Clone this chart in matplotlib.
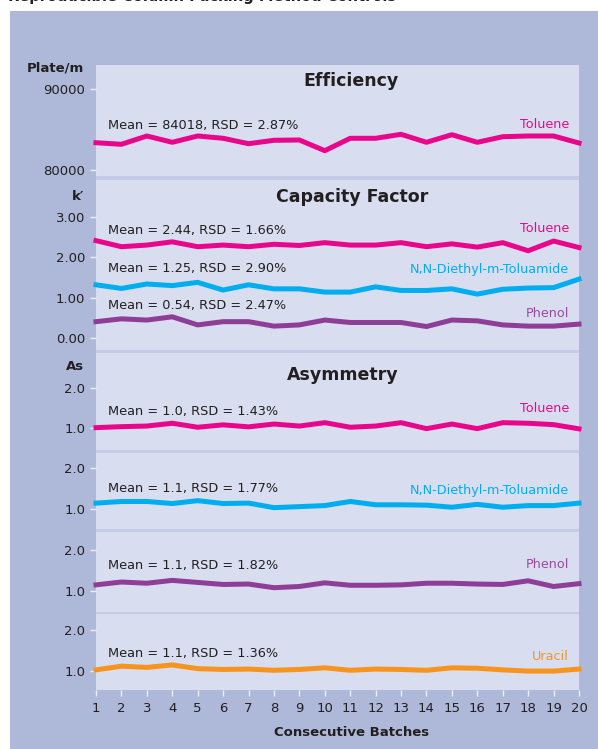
import matplotlib
matplotlib.use('Agg')
import matplotlib.pyplot as plt
from matplotlib.patches import Rectangle

# ---------------- data ----------------
batches = list(range(1, 21))
eff_toluene = [83370, 83173, 84198, 83420, 84198, 83914, 83247, 83667, 83704, 82383,
               83914, 83914, 84407, 83420, 84358, 83420, 84111, 84198, 84198, 83333]
k_toluene = [2.41, 2.26, 2.30, 2.38, 2.26, 2.30, 2.26, 2.32, 2.29, 2.36,
             2.30, 2.30, 2.36, 2.26, 2.33, 2.25, 2.36, 2.16, 2.40, 2.24]
k_deet = [1.32, 1.23, 1.34, 1.30, 1.38, 1.19, 1.32, 1.22, 1.22, 1.14,
          1.14, 1.27, 1.18, 1.18, 1.22, 1.09, 1.21, 1.24, 1.25, 1.46]
k_phenol = [0.41, 0.48, 0.45, 0.53, 0.33, 0.41, 0.41, 0.30, 0.33, 0.45,
            0.39, 0.39, 0.39, 0.29, 0.45, 0.43, 0.33, 0.30, 0.30, 0.35]
as_toluene = [1.00, 1.025, 1.04, 1.11, 1.01, 1.07, 1.02, 1.09, 1.04, 1.125,
              1.01, 1.04, 1.125, 0.975, 1.09, 0.975, 1.125, 1.11, 1.075, 0.97]
as_deet = [1.15, 1.19, 1.19, 1.14, 1.21, 1.14, 1.15, 1.04, 1.065, 1.09,
           1.19, 1.11, 1.11, 1.10, 1.05, 1.12, 1.05, 1.09, 1.09, 1.15]
as_phenol = [1.14, 1.21, 1.18, 1.25, 1.20, 1.15, 1.16, 1.07, 1.10, 1.19,
             1.13, 1.13, 1.14, 1.18, 1.18, 1.16, 1.15, 1.24, 1.10, 1.17]
as_uracil = [1.03, 1.12, 1.09, 1.15, 1.06, 1.04, 1.05, 1.02, 1.04, 1.08,
             1.02, 1.05, 1.04, 1.02, 1.08, 1.07, 1.03, 1.00, 1.00, 1.05]

eff_ticks = [80000, 90000]
eff_ticklabels = ["80000", "90000"]
k_ticks = [0, 1, 2, 3]
k_ticklabels = ["0.00", "1.00", "2.00", "3.00"]
as_ticks = [1, 2]
as_ticklabels = ["1.0", "2.0"]

stats_eff = "Mean = 84018, RSD = 2.87%"
stats_k = ["Mean = 2.44, RSD = 1.66%", "Mean = 1.25, RSD = 2.90%", "Mean = 0.54, RSD = 2.47%"]
stats_as = ["Mean = 1.0, RSD = 1.43%", "Mean = 1.1, RSD = 1.77%",
            "Mean = 1.1, RSD = 1.82%", "Mean = 1.1, RSD = 1.36%"]

# ---------------- style ----------------
W, H = 598, 749
BG = '#aeb8d8'
PANEL = '#d8ddf0'
BAND = '#c4cbe6'
TXT = '#231f20'
TICKC = '#eef0f8'
C_TOL = '#e8078b'
C_DEET = '#00aeef'
C_PHE = '#8e3e96'
C_URA = '#f7941d'
LW = 3.6
FONT = 'DejaVu Sans'
plt.rcParams['font.family'] = FONT

fig = plt.figure(figsize=(W / 100, H / 100), dpi=100)
fig.patch.set_facecolor('white')


def fx(px):
    return px / W


def fy(py):
    return 1 - py / H


# lavender background
fig.patches.append(Rectangle((fx(10), 0), 1 - fx(10), fy(11), transform=fig.transFigure,
                             facecolor=BG, edgecolor='none', zorder=-3))
# separator band behind panels
X0, X1 = 96, 579
fig.patches.append(Rectangle((fx(X0), fy(690)), fx(X1) - fx(X0), fy(65) - fy(690),
                             transform=fig.transFigure, facecolor=BAND, edgecolor='none', zorder=-2))

# cut-off title at very top
fig.text(fx(8), fy(1.2), "Reproducible Column Packing Method Controls", fontsize=10.5,
         fontweight='bold', color=TXT, va='baseline', ha='left')


def make_panel(top, bot, ylim, ticks, labels, show_x=False):
    ax = fig.add_axes([fx(X0), fy(bot), fx(X1) - fx(X0), fy(top) - fy(bot)])
    ax.set_facecolor(PANEL)
    ax.set_xlim(1, 20)
    ax.set_ylim(*ylim)
    ax.set_yticks(ticks)
    ax.set_yticklabels(labels)
    for s in ax.spines.values():
        s.set_visible(False)
    ax.tick_params(axis='y', direction='out', length=4.3, width=1, color=TICKC,
                   labelsize=9.5, labelcolor=TXT, pad=3.5)
    if show_x:
        ax.set_xticks(batches)
        ax.tick_params(axis='x', direction='out', length=4.5, width=1, color=TICKC,
                       labelsize=9.5, labelcolor=TXT, pad=4)
    else:
        ax.set_xticks([])
    return ax


def ann(text, py, color=TXT, px=108, ha='left'):
    fig.text(fx(px), fy(py), text, fontsize=9.3, color=color, ha=ha, va='center')


def label(text, py, color):
    fig.text(fx(569), fy(py), text, fontsize=9.2, color=color, ha='right', va='center')


def title(text, py, px):
    fig.text(fx(px), fy(py), text, fontsize=12.5, fontweight='bold', color=TXT,
             ha='center', va='center')


def unit(text, py):
    fig.text(fx(84), fy(py), text, fontsize=9.5, fontweight='bold', color=TXT,
             ha='right', va='center')


# Efficiency
ax = make_panel(65, 176, (79259, 92963), eff_ticks, eff_ticklabels)
ax.plot(batches, eff_toluene, color=C_TOL, lw=LW, clip_on=False)
title("Efficiency", 81, 351)
ann(stats_eff, 126)
label("Toluene", 125, C_TOL)
unit("Plate/m", 68)

# Capacity factor
ax = make_panel(180, 350, (-0.289, 3.906), k_ticks, k_ticklabels)
ax.plot(batches, k_toluene, color=C_TOL, lw=LW, clip_on=False)
ax.plot(batches, k_deet, color=C_DEET, lw=LW, clip_on=False)
ax.plot(batches, k_phenol, color=C_PHE, lw=LW, clip_on=False)
title("Capacity Factor", 197, 352)
ann(stats_k[0], 230.5)
ann(stats_k[1], 268)
ann(stats_k[2], 305.5)
label("Toluene", 228, C_TOL)
label("N,N-Diethyl-m-Toluamide", 270, C_DEET)
label("Phenol", 314, '#9b4aa0')
unit("k\u2032", 196)

# Asymmetry
as_panels = [
    (353, 450, (0.44, 2.87), as_toluene, C_TOL, "Toluene", 411.5, 409),
    (453, 529, (0.52, 2.37), as_deet, C_DEET, "N,N-Diethyl-m-Toluamide", 489, 490.5),
    (532, 611.7, (0.48, 2.44), as_phenol, C_PHE, "Phenol", 565.5, 565),
    (614, 690, (0.54, 2.39), as_uracil, C_URA, "Uracil", 653, 657),
]
for i, (t, b, yl, vals, col, name, ay, ly) in enumerate(as_panels):
    ax = make_panel(t, b, yl, as_ticks, as_ticklabels, show_x=(i == 3))
    ax.plot(batches, vals, color=col, lw=LW, clip_on=False)
    ann(stats_as[i], ay)
    label(name, ly, '#9b4aa0' if name == "Phenol" else col)
title("Asymmetry", 375, 343)
unit("As", 367)

fig.text(fx(352), fy(733), "Consecutive Batches", fontsize=9.5, fontweight='bold',
         color=TXT, ha='center', va='center')

fig.savefig('out.png', dpi=100, facecolor=fig.get_facecolor())
